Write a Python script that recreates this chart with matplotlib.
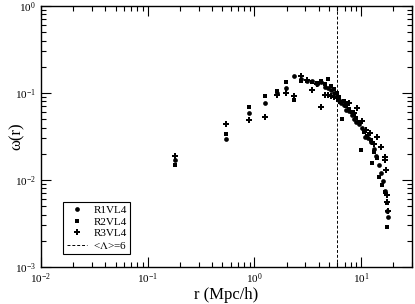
import numpy as np
import matplotlib
matplotlib.use("Agg")
import matplotlib.pyplot as plt

plt.rcParams['font.family'] = ['Liberation Serif', 'DejaVu Serif']
plt.rcParams['mathtext.fontset'] = 'stix'

# R1VL4 (circulos)
r1 = [0.18, 0.544, 0.898, 1.267, 1.63, 1.978, 2.365, 2.708, 3.08, 3.43, 3.82, 4.17,
      4.54, 4.89, 5.24, 5.63, 5.97, 6.23, 6.46, 6.9, 7.24, 7.73, 8.24, 8.6, 8.98,
      9.6, 10.3, 10.9, 11.6, 12.3, 13.2, 13.9, 14.7, 15.4, 16.2, 16.8, 17.6, 18.0]
w1 = [0.0168, 0.0296, 0.0594, 0.0762, 0.101, 0.113, 0.155, 0.145, 0.138, 0.138, 0.127, 0.134,
      0.118, 0.115, 0.108, 0.100, 0.092, 0.083, 0.076, 0.073, 0.064, 0.062, 0.056, 0.050, 0.046,
      0.044, 0.040, 0.031, 0.030, 0.027, 0.023, 0.019, 0.015, 0.012, 0.0097, 0.0075, 0.0044, 0.0038]

# R2VL4 (cuadrados)
r2 = [0.18, 0.544, 0.898, 1.267, 1.63, 1.978, 2.365, 2.708, 3.08, 3.43, 3.82, 4.17,
      4.54, 4.89, 5.24, 5.63, 5.97, 6.23, 6.69, 6.9, 7.24, 7.73, 8.24, 8.6, 8.98,
      9.6, 9.94, 10.67, 11.4, 12.3, 12.7, 13.2, 14.2, 14.7, 15.8, 16.8, 17.6, 17.6]
w2 = [0.0148, 0.0338, 0.0696, 0.0924, 0.106, 0.134, 0.0824, 0.139, 0.139, 0.135, 0.132, 0.138,
      0.126, 0.144, 0.121, 0.110, 0.100, 0.090, 0.050, 0.080, 0.070, 0.066, 0.060, 0.058, 0.052,
      0.046, 0.0221, 0.036, 0.032, 0.029, 0.0156, 0.021, 0.018, 0.0108, 0.0088, 0.0073, 0.0054, 0.0029]

# R3VL4 (estrellas)
r3 = [0.18, 0.544, 0.898, 1.267, 1.63, 1.978, 2.365, 2.708, 3.08, 3.43, 3.82, 4.17,
      4.54, 4.89, 5.24, 5.63, 5.97, 6.23, 7.04, 7.73, 8.6, 9.24, 10.3, 11.0, 12.0,
      13.2, 14.2, 15.2, 16.8, 16.8, 17.2, 17.6, 17.6, 18.0]
w3 = [0.019, 0.0437, 0.0489, 0.053, 0.096, 0.100, 0.0924, 0.157, 0.140, 0.109, 0.127, 0.069,
      0.0948, 0.0948, 0.0935, 0.0907, 0.087, 0.080, 0.0794, 0.0762, 0.059, 0.0667, 0.048, 0.038, 0.035,
      0.026, 0.0315, 0.024, 0.0185, 0.017, 0.013, 0.0067, 0.0056, 0.0044]

lambda_r = 6

fig = plt.figure(figsize=(4.15, 3.04), dpi=100)
ax = fig.add_axes([0.0988, 0.1217, 0.8940, 0.8586])

ax.plot(r1, w1, 'o', color='black', ms=3.4, mew=0, label='R1VL4')
ax.plot(r2, w2, 's', color='black', ms=3.1, mew=0, label='R2VL4')
ax.plot(r3, w3, 'P', color='black', ms=3.8, mew=0, label='R3VL4')
ax.axvline(lambda_r, color='black', ls=(0, (3, 2)), lw=0.7, label=r'<$\Lambda$>=6')

ax.set_xscale('log')
ax.set_yscale('log')
ax.set_xlim(0.01, 30)
ax.set_ylim(0.001, 1)

ax.tick_params(which='both', direction='in', top=True, right=True, labelsize=8, width=0.8)
ax.tick_params(which='major', length=7)
ax.tick_params(which='minor', length=3.5)
for s in ax.spines.values():
    s.set_linewidth(1.0)

ax.set_xlabel('r (Mpc/h)', fontsize=12, va='center')
ax.xaxis.set_label_coords(0.5, -0.108)
ax.set_ylabel(r'ω(r)', fontsize=12, va='center')
ax.yaxis.set_label_coords(-0.066, 0.5)

leg = ax.legend(loc='lower left', bbox_to_anchor=(0.045, 0.028), fontsize=8,
                frameon=True, fancybox=False, edgecolor='black', framealpha=1,
                handlelength=1.8, handletextpad=0.6, borderpad=0.3, labelspacing=0.15)
leg.get_frame().set_linewidth(0.8)

fig.savefig('out.png', dpi=100)
